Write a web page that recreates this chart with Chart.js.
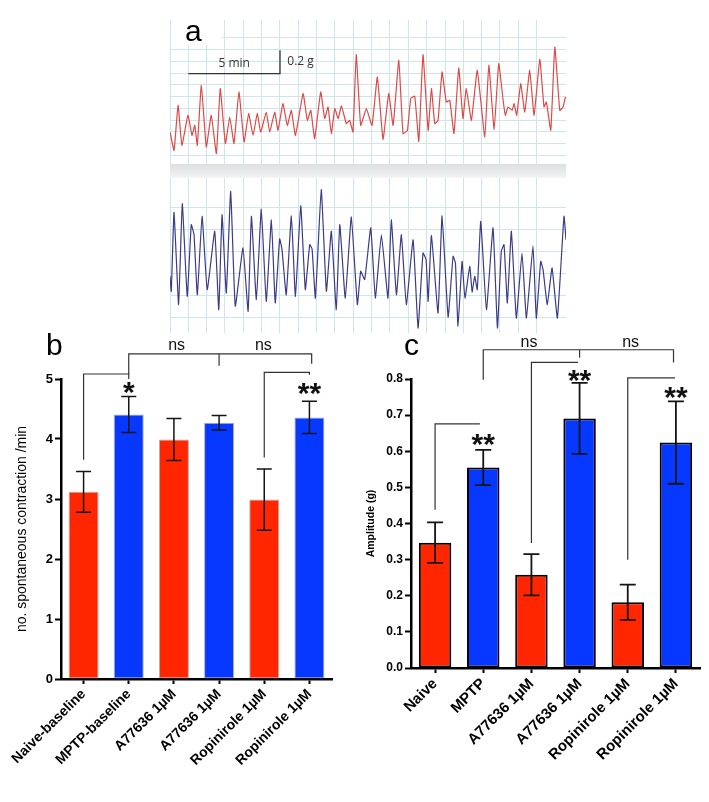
<!DOCTYPE html>
<html>
<head>
<meta charset="utf-8">
<script src="https://cdn.jsdelivr.net/npm/chart.js@4.4.1/dist/chart.umd.min.js"></script>
<style>
  body { margin: 0; background: #fff; width: 709px; height: 802px; position: relative; overflow: hidden; }
  canvas, .box { position: absolute; }
  .lbl { position: absolute; font: 30px "Liberation Sans", Arial, sans-serif; line-height: 30px; color: #000; }
</style>
</head>
<body>
<canvas id="redTrace" width="396" height="147" style="left:170px;top:20px"></canvas>
<canvas id="blueTrace" width="396" height="156" style="left:170px;top:177px"></canvas>
<div class="box" style="left:170px;top:164px;width:396px;height:14px;background:linear-gradient(#dcdfe0,#f3f4f4)"></div>
<div class="box" style="left:171px;top:20px;width:51px;height:25px;background:#fff"></div>
<div class="lbl" style="left:185px;top:16px">a</div>
<canvas id="chartB" width="350" height="472" style="left:0;top:330px"></canvas>
<canvas id="chartC" width="359" height="472" style="left:350px;top:330px"></canvas>
<div class="lbl" style="left:46px;top:330px">b</div>
<div class="lbl" style="left:404px;top:330px">c</div>

<script>
// panel a: force traces, time in min, tension in g
const redTime = [0, 0.22, 0.44, 0.65, 0.98, 1.20, 1.35, 1.49, 1.71, 1.98,
  2.25, 2.53, 2.74, 3.02, 3.26, 3.49, 3.76, 4.04, 4.29, 4.53,
  4.76, 4.95, 5.25, 5.44, 5.71, 5.89, 6.16, 6.40, 6.62, 6.84,
  7.26, 7.49, 7.68, 7.89, 8.22, 8.44, 8.62, 8.80, 8.99, 9.17,
  9.35, 9.62, 9.80, 9.98, 10.16, 10.40, 10.71, 11.02, 11.31, 11.62,
  11.93, 12.17, 12.48, 12.71, 12.95, 13.13, 13.35, 13.57, 13.80, 14.08,
  14.26, 14.44, 14.62, 14.84, 15.07, 15.26, 15.49, 15.75, 15.98, 16.16,
  16.44, 16.76, 17.17, 17.39, 17.68, 17.93, 18.17, 18.29, 18.44, 18.66,
  18.77, 18.91, 19.13, 19.35, 19.62, 19.86, 20.17, 20.40, 20.53, 20.77,
  20.99, 21.26, 21.44, 21.57];
const redAmp = [0.298, 0.142, 0.526, 0.185, 0.441, 0.270, 0.355, 0.185, 0.697, 0.171,
  0.441, 0.114, 0.669, 0.200, 0.426, 0.200, 0.640, 0.213, 0.455, 0.270,
  0.455, 0.298, 0.469, 0.298, 0.469, 0.313, 0.540, 0.355, 0.483, 0.270,
  0.626, 0.398, 0.483, 0.242, 0.640, 0.413, 0.512, 0.285, 0.498, 0.413,
  0.520, 0.370, 0.398, 0.298, 0.958, 0.355, 0.498, 0.355, 0.767, 0.236,
  0.626, 0.355, 0.910, 0.285, 0.313, 0.583, 0.603, 0.219, 0.958, 0.313,
  0.668, 0.370, 0.398, 0.810, 0.554, 0.569, 0.285, 0.844, 0.413, 0.668,
  0.398, 0.824, 0.256, 0.867, 0.321, 0.881, 0.569, 0.441, 0.512, 0.483,
  0.540, 0.441, 0.711, 0.469, 0.824, 0.441, 0.918, 0.512, 0.554, 0.313,
  1.023, 0.483, 0.512, 0.597];

const blueTime = [0.00, 0.07, 0.22, 0.47, 0.67, 0.94, 1.16, 1.31, 1.49, 1.75,
  2.03, 2.44, 2.66, 2.84, 3.07, 3.31, 3.56, 3.98, 4.26, 4.44,
  4.71, 4.98, 5.25, 5.53, 5.74, 5.98, 6.11, 6.34, 6.62, 6.84,
  7.13, 7.38, 7.62, 7.75, 7.93, 8.25, 8.53, 8.80, 9.07, 9.26,
  9.56, 9.89, 10.22, 10.40, 10.62, 10.95, 11.20, 11.53, 11.89, 12.07,
  12.35, 12.62, 12.89, 13.26, 13.53, 13.80, 13.97, 14.08, 14.26, 14.62,
  14.84, 15.17, 15.44, 15.57, 15.71, 15.93, 16.09, 16.35, 16.48, 16.62,
  16.76, 16.95, 17.26, 17.62, 17.86, 18.07, 18.22, 18.40, 18.62, 18.89,
  19.20, 19.44, 19.80, 19.98, 20.22, 20.35, 20.58, 20.84, 21.13, 21.49,
  21.6];
const blueAmp = [0.285, 0.217, 0.576, 0.156, 0.615, 0.194, 0.520, 0.474, 0.201, 0.558,
  0.224, 0.490, 0.133, 0.565, 0.209, 0.671, 0.149, 0.414, 0.126, 0.558,
  0.179, 0.591, 0.171, 0.542, 0.164, 0.455, 0.406, 0.201, 0.560, 0.194,
  0.606, 0.224, 0.429, 0.409, 0.186, 0.679, 0.217, 0.490, 0.133, 0.520,
  0.186, 0.555, 0.156, 0.308, 0.270, 0.505, 0.186, 0.474, 0.186, 0.542,
  0.201, 0.474, 0.156, 0.451, 0.050, 0.391, 0.360, 0.171, 0.470, 0.118,
  0.560, 0.100, 0.376, 0.345, 0.058, 0.353, 0.186, 0.330, 0.214, 0.285,
  0.224, 0.535, 0.133, 0.505, 0.050, 0.399, 0.429, 0.164, 0.490, 0.095,
  0.391, 0.095, 0.424, 0.095, 0.353, 0.314, 0.156, 0.323, 0.095, 0.558,
  0.451];

// panel b: contractions per minute
const groupsB = ['Naive-baseline', 'MPTP-baseline', 'A77636 1µM', 'A77636 1µM', 'Ropinirole 1µM', 'Ropinirole 1µM'];
const rateMean = [3.12, 4.41, 3.99, 4.27, 2.99, 4.36];
const rateSem = [0.34, 0.30, 0.35, 0.12, 0.51, 0.27];
const ticksB = [0, 1, 2, 3, 4, 5];

// panel c: amplitude
const groupsC = ['Naive', 'MPTP', 'A77636 1µM', 'A77636 1µM', 'Ropinirole 1µM', 'Ropinirole 1µM'];
const ampMean = [0.347, 0.555, 0.258, 0.691, 0.182, 0.624];
const ampSem = [0.056, 0.049, 0.057, 0.098, 0.049, 0.114];
const ticksC = [0, 0.1, 0.2, 0.3, 0.4, 0.5, 0.6, 0.7, 0.8];

// significance brackets, [category index, value] points
const bracketsB = [
  [[0, 3.655], [0, 5.083], [1, 5.083], [1, 5.0]],
  [[1, 5.083], [1, 5.42], [5.05, 5.42], [5.05, 5.255]],
  [[3, 5.42], [3, 5.22]],
  [[4, 3.69], [4, 5.11], [5, 5.11], [5, 5.07]]
];
const starsB = [{ x: 1, y: 4.905, text: '*' }, { x: 5, y: 4.9, text: '**' }];
const nsB = [{ x: 2.06, y: 5.488 }, { x: 3.98, y: 5.488 }];

const bracketsC = [
  [[0, 0.438], [0, 0.676], [0.93, 0.676]],
  [[1, 0.798], [1, 0.881], [4.95, 0.881], [4.95, 0.846]],
  [[3, 0.881], [3, 0.859]],
  [[2, 0.346], [2, 0.846], [2.97, 0.846]],
  [[4, 0.30], [4, 0.803], [4.98, 0.803]]
];
const starsC = [{ x: 1, y: 0.640, text: '**' }, { x: 3, y: 0.817, text: '**' }, { x: 5, y: 0.770, text: '**' }];
const nsC = [{ x: 1.95, y: 0.889 }, { x: 4.06, y: 0.889 }];

const FONT = '"Liberation Sans", Arial, Helvetica, sans-serif';
const RED = '#ff2600';
const BLUE = '#0638ff';
const barColors = [RED, BLUE, RED, BLUE, RED, BLUE];
const GRID = '#cfe5ee';

function onStep(v, step) {
  const k = v / step;
  return Math.abs(k - Math.round(k)) < 1e-6;
}

function traceChart(id, time, amp, color, yMin, yMax, extra) {
  return new Chart(document.getElementById(id), {
    type: 'line',
    data: {
      datasets: [{
        data: time.map((t, i) => ({ x: t, y: amp[i] })),
        borderColor: color,
        borderWidth: 1.2,
        pointRadius: 0,
        tension: 0.12,
        fill: false
      }]
    },
    options: {
      responsive: false,
      animation: false,
      devicePixelRatio: 1,
      layout: { padding: 0 },
      plugins: { legend: { display: false }, tooltip: { enabled: false } },
      scales: {
        x: {
          type: 'linear', min: 0, max: 21.6,
          ticks: { display: false, stepSize: 1 },
          grid: { drawTicks: false, color: c => onStep(c.tick.value, 1) ? GRID : 'rgba(0,0,0,0)' },
          border: { display: false },
          afterFit: s => { s.height = 0; }
        },
        y: {
          min: yMin, max: yMax,
          ticks: { display: false, stepSize: 0.1 },
          grid: { drawTicks: false, color: c => onStep(c.tick.value, 0.1) ? GRID : 'rgba(0,0,0,0)' },
          border: { display: false },
          afterFit: s => { s.width = 0; }
        }
      }
    },
    plugins: extra ? [extra] : []
  });
}

// 5 min / 0.2 g calibration bar
const scaleBar = {
  id: 'scaleBar',
  afterDraw(chart) {
    const { ctx, scales: { x, y } } = chart;
    const x0 = x.getPixelForValue(1), x1 = x.getPixelForValue(6);
    const y0 = y.getPixelForValue(0.796), y1 = y.getPixelForValue(0.996);
    ctx.save();
    ctx.strokeStyle = '#333';
    ctx.lineWidth = 1.3;
    ctx.beginPath();
    ctx.moveTo(x0, y0); ctx.lineTo(x1, y0); ctx.lineTo(x1, y1);
    ctx.stroke();
    ctx.fillStyle = '#333';
    ctx.font = '12px "Open Sans", sans-serif';
    ctx.textBaseline = 'middle';
    ctx.textAlign = 'center';
    ctx.fillText('5 min', x.getPixelForValue(3.5), y.getPixelForValue(0.88));
    ctx.textAlign = 'left';
    ctx.fillText('0.2 g', x.getPixelForValue(6.4), y.getPixelForValue(0.895));
    ctx.restore();
  }
};

traceChart('redTrace', redTime, redAmp, '#de4a45', 0, 1.253, scaleBar);
traceChart('blueTrace', blueTime, blueAmp, '#3b3b88', 0.0273, 0.7364, null);

function errorBars(means, errs, cap, width) {
  return {
    id: 'errorBars',
    afterDatasetsDraw(chart) {
      const { ctx, scales: { x, y } } = chart;
      ctx.save();
      ctx.strokeStyle = '#151515';
      ctx.lineWidth = width;
      means.forEach((m, i) => {
        const px = x.getPixelForValue(i);
        const top = y.getPixelForValue(m + errs[i]);
        const bot = y.getPixelForValue(m - errs[i]);
        ctx.beginPath();
        ctx.moveTo(px, top); ctx.lineTo(px, bot);
        ctx.moveTo(px - cap / 2, top); ctx.lineTo(px + cap / 2, top);
        ctx.moveTo(px - cap / 2, bot); ctx.lineTo(px + cap / 2, bot);
        ctx.stroke();
      });
      ctx.restore();
    }
  };
}

function annotations(brackets, stars, ns) {
  return {
    id: 'annotations',
    afterDraw(chart) {
      const { ctx, scales: { x, y } } = chart;
      ctx.save();
      ctx.strokeStyle = '#333';
      ctx.lineWidth = 1.2;
      brackets.forEach(pts => {
        ctx.beginPath();
        pts.forEach(([i, v], k) => {
          const px = x.getPixelForValue(i), py = y.getPixelForValue(v);
          if (k) ctx.lineTo(px, py); else ctx.moveTo(px, py);
        });
        ctx.stroke();
      });
      ctx.fillStyle = '#111';
      ctx.textAlign = 'center';
      ctx.textBaseline = 'alphabetic';
      ctx.font = 'bold 30px ' + FONT;
      stars.forEach(s => ctx.fillText(s.text, x.getPixelForValue(s.x), y.getPixelForValue(s.y) + 17.5));
      ctx.font = '16px ' + FONT;
      ns.forEach(n => ctx.fillText('ns', x.getPixelForValue(n.x), y.getPixelForValue(n.y)));
      ctx.restore();
    }
  };
}

function barChart(id, labels, means, errs, opts) {
  return new Chart(document.getElementById(id), {
    type: 'bar',
    data: {
      labels: labels,
      datasets: [{
        data: means,
        backgroundColor: barColors,
        borderColor: opts.border,
        borderWidth: opts.borderWidth,
        borderSkipped: false,
        categoryPercentage: 1,
        barPercentage: opts.barPct
      }]
    },
    options: {
      responsive: false,
      animation: false,
      devicePixelRatio: 1,
      layout: { padding: { top: opts.top, right: opts.right, left: 0, bottom: 0 } },
      plugins: { legend: { display: false }, tooltip: { enabled: false } },
      scales: {
        x: {
          grid: { offset: false, drawOnChartArea: false, tickLength: 5, tickWidth: 2, tickColor: '#000' },
          border: { color: '#000', width: 2.5 },
          ticks: { autoSkip: false, minRotation: 45, maxRotation: 45, padding: 2, color: '#000',
                   font: { family: FONT, size: opts.xFont, weight: 'bold' } },
          afterFit: s => { s.height = opts.xHeight; }
        },
        y: {
          min: 0, max: opts.max,
          afterBuildTicks: s => { s.ticks = opts.ticks.map(v => ({ value: v })); },
          ticks: { padding: 2, color: '#000', font: { family: FONT, size: opts.yFont, weight: 'bold' },
                   callback: opts.fmt },
          grid: { drawOnChartArea: false, tickLength: 6, tickWidth: 2, tickColor: '#000' },
          border: { color: '#000', width: 2.5 },
          title: { display: true, text: opts.title, color: '#000',
                   font: { family: FONT, size: opts.titleSize, weight: opts.titleWeight },
                   padding: { top: opts.titlePad, bottom: 0 } },
          afterFit: s => { s.width = 61; }
        }
      }
    },
    plugins: [errorBars(means, errs, opts.cap, opts.errWidth), annotations(opts.brackets, opts.stars, opts.ns)]
  });
}

barChart('chartB', groupsB, rateMean, rateSem, {
  border: 'rgba(110,110,110,0.55)', borderWidth: 1, barPct: 0.664,
  top: 49, right: 18, xHeight: 123, xFont: 14, yFont: 13, max: 5, ticks: ticksB,
  fmt: v => String(v), title: 'no. spontaneous contraction /min', titleSize: 14, titleWeight: 'normal', titlePad: 14,
  cap: 15, errWidth: 1.5, brackets: bracketsB, stars: starsB, ns: nsB
});

barChart('chartC', groupsC, ampMean, ampSem, {
  border: '#000', borderWidth: 2, barPct: 0.674,
  top: 49, right: 9, xHeight: 134, xFont: 15, yFont: 12, max: 0.8, ticks: ticksC,
  fmt: v => v.toFixed(1), title: 'Amplitude (g)', titleSize: 10.5, titleWeight: 'bold', titlePad: 15,
  cap: 16, errWidth: 1.8, brackets: bracketsC, stars: starsC, ns: nsC
});
</script>
</body>
</html>
